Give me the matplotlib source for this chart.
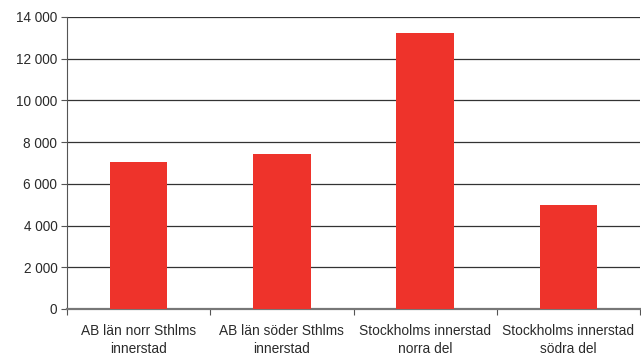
import matplotlib.pyplot as plt
from matplotlib.ticker import FuncFormatter

categories = ['AB län norr Sthlms\ninnerstad', 'AB län söder Sthlms\ninnerstad',
              'Stockholms innerstad\nnorra del', 'Stockholms innerstad\nsödra del']
values = [7050, 7430, 13230, 4990]

plt.rcParams['font.family'] = ['Liberation Sans', 'DejaVu Sans']

fig = plt.figure(figsize=(6.41, 3.57), dpi=100)
ax = fig.add_axes([67 / 641, 1 - 309 / 357, 573 / 641, 292 / 357])

x = range(len(categories))
ax.bar(x, values, width=0.40, color='#EE332B', zorder=3)

ax.set_xlim(-0.5, len(categories) - 0.5)
ax.set_ylim(0, 14000)
ax.set_yticks(range(0, 14001, 2000))
ax.yaxis.set_major_formatter(FuncFormatter(lambda v, p: f'{int(v):,}'.replace(',', ' ')))
ax.yaxis.grid(True, color='#333333', linewidth=0.9, zorder=0)

# category labels centred, tick marks on boundaries
ax.set_xticks([i + 0.5 for i in range(-1, len(categories))])
ax.set_xticklabels([])
ax.set_xticks(list(x), minor=True)
ax.set_xticklabels(categories, minor=True, fontsize=9.9, color='#2a2a2a', linespacing=1.35)
ax.tick_params(axis='x', which='minor', length=0, pad=11)
ax.tick_params(axis='x', which='major', length=4, color='#555555', direction='out')
ax.tick_params(axis='y', length=4, color='#555555', labelsize=9.8, labelcolor='#2a2a2a', pad=3)

for s in ['top', 'right']:
    ax.spines[s].set_visible(False)
ax.spines['left'].set_color('#555555')
ax.spines['bottom'].set_color('#777777')
ax.spines['bottom'].set_linewidth(1.6)

fig.savefig('out.png', dpi=100)
